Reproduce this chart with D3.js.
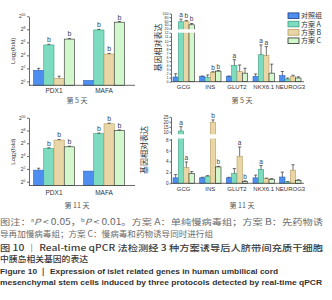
<!DOCTYPE html>
<html>
<head>
<meta charset="utf-8">
<style>
    body { margin: 0; background: #fff; }
    svg { display: block; }
    text { font-family: "Liberation Sans", Arial, sans-serif; }
    .cjk { font-family: "Noto Sans CJK SC", sans-serif; }
</style>
</head>
<body>
<svg id="figure"></svg>
<script src="https://cdn.jsdelivr.net/npm/d3@7"></script>
<script>
    let width = 332,
        height = 300

    // groups and genes
    const groups = ["对照组", "方案 A", "方案 B", "方案 C"]
    const leftGenes = ["PDX1", "MAFA"]
    const rightGenes = ["GCG", "INS", "GLUT2", "NKX6.1", "NEUROG3"]

    // tick labels
    const log2Ticks = [0, 2, 4, 6, 8, 10]
    const d5LowTicks = [0, 1, 2, 3, 4, 5, 6, 7, 8, 9, 10, 11, 12]
    const d5UpTicks = [20, 40, 60, 80, 100]
    const d11LowTicks = [0, 2, 4, 6, 8]
    const d11UpTicks = [10, 15, 20, 25]

    // day 5, log2(fold), rows = genes, cols = groups
    const d5Left = [[1.7, 5.6, 0.45, 6.5], [0.15, 7.9, 4.2, 9.1]]
    const d5LeftErr = [[0.3, 0.1, 0.35, 0.1], [0, 0.1, 0.1, 0.1]]
    const d5LeftSig = [["", "b", "", "b"], ["", "b", "b", "b"]]

    // day 11, log2(fold)
    const d11Left = [[1.8, 5.2, 6.5, 5.45], [1.65, 7.5, 9.05, 8.0]]
    const d11LeftErr = [[0.3, 0.1, 0.1, 0.1], [0, 0.1, 0.1, 0.1]]
    const d11LeftSig = [["", "b", "b", "b"], ["", "b", "b", "b"]]

    // day 5, relative expression
    const d5Right = [[1.15, 56, 58, 40], [1.3, 1.05, 2.3, 2.6], [1.3, 4.0, 2.5, 2.1], [1.3, 6.6, 6.4, 2.1], [1.5, 0.65, 1.3, 0.9]]
    const d5RightErr = [[0.8, 14, 5, 7], [0.1, 0.6, 0.15, 0.1], [0.1, 1.4, 1.6, 1.2], [0.6, 2.4, 2.2, 2.2], [1.0, 0.25, 0.3, 0.3]]
    const d5RightSig = [["", "a", "b", "b"], ["", "", "b", "b"], ["", "a", "", ""], ["", "a", "a", ""], ["", "", "", ""]]

    // day 11, relative expression
    const d11Right = [[1.0, 10.8, 2.9, 1.8], [1.0, 1.3, 19.6, 3.0], [1.0, 1.8, 4.95, 0.35], [1.0, 2.55, 0.85, 0.75], [1.15, 0.25, 2.4, 0.55]]
    const d11RightErr = [[0.6, 4.3, 1.0, 0.35], [0.1, 0.1, 2.3, 0.1], [0.1, 0.9, 1.7, 0.1], [0.5, 0.7, 0.1, 0.1], [0.9, 0.05, 1.0, 0.1]]
    const d11RightSig = [["", "a", "a", ""], ["", "", "b", "b"], ["", "", "a", "b"], ["", "a", "", ""], ["", "", "", ""]]

    const fills = ["#4d8ef0", "#7ddcc0", "#e8d6a6", "#d3f7cc"]
    const strokes = ["#2f66c0", "#3c9e80", "#b89c62", "#2a2a2a"]

    let svg = d3.select("#figure").attr("width", width).attr("height", height)

    function styleAxis(ax, size) {
        ax.selectAll("path, line").attr("stroke", "#444").attr("stroke-width", 0.8)
        ax.selectAll("text").attr("fill", "#333").attr("font-size", size)
    }

    function drawBars(g, genes, values, errors, sigs, x0, y, base, sigSize) {
        let x1 = d3.scaleBand().domain(groups).range([0, x0.bandwidth()])
        let rows = genes.flatMap((gene, i) => groups.map((grp, j) => ({
            gene: gene, grp: grp, j: j, v: values[i][j], e: errors[i][j], s: sigs[i][j]
        })))
        let cells = g.append("g").selectAll("g").data(rows).join("g")
            .attr("transform", d => `translate(${x0(d.gene) + x1(d.grp)},0)`)
        cells.append("rect")
            .attr("width", x1.bandwidth())
            .attr("y", d => y(d.v))
            .attr("height", d => base - y(d.v))
            .attr("fill", d => fills[d.j])
            .attr("stroke", d => strokes[d.j])
            .attr("stroke-width", 0.6)
        let bw = x1.bandwidth() / 2
        let withErr = cells.filter(d => d.e > 0)
        withErr.append("line")
            .attr("x1", bw).attr("x2", bw)
            .attr("y1", d => y(d.v)).attr("y2", d => y(d.v + d.e))
            .attr("stroke", "#333").attr("stroke-width", 0.7)
        withErr.append("line")
            .attr("x1", bw - 1.6).attr("x2", bw + 1.6)
            .attr("y1", d => y(d.v + d.e)).attr("y2", d => y(d.v + d.e))
            .attr("stroke", "#333").attr("stroke-width", 0.7)
        cells.filter(d => d.s).append("text")
            .attr("x", bw)
            .attr("y", d => y(d.v + d.e) - 2)
            .attr("text-anchor", "middle")
            .attr("font-size", sigSize)
            .attr("fill", "#33405a")
            .text(d => d.s)
    }

    function drawLog2Panel(values, errors, sigs, yRange, labelPad, title, titleY) {
        let g = svg.append("g")
        let x0 = d3.scaleBand().domain(leftGenes).range([29, 129]).paddingInner(0.18).paddingOuter(0.09)
        let y = d3.scaleLinear().domain([-0.6, 10]).range(yRange)
        let base = yRange[0]
        drawBars(g, leftGenes, values, errors, sigs, x0, y, base, 7)

        let ay = g.append("g").attr("transform", "translate(29,0)")
            .call(d3.axisLeft(y).tickValues(log2Ticks).tickSize(2).tickSizeOuter(0).tickPadding(1.5))
        styleAxis(ay, 5)
        ay.selectAll(".tick text").text("2")
            .append("tspan").attr("dy", -2).attr("font-size", 3.4).text(d => d)

        let ax = g.append("g").attr("transform", `translate(0,${base})`)
            .call(d3.axisBottom(x0).tickSize(0).tickPadding(labelPad))
        ax.select(".domain").attr("d", `M29,0H135`)
        styleAxis(ax, 6.5)

        let cy = (yRange[0] + yRange[1]) / 2
        let lab = g.append("text").attr("transform", `translate(15,${cy}) rotate(-90)`)
            .attr("text-anchor", "middle").attr("font-size", 6).attr("fill", "#333")
            .text("Log")
        lab.append("tspan").attr("font-size", 4.5).attr("dy", 1.2).text("2")
        lab.append("tspan").attr("dy", -1.2).text("(fold)")

        g.append("text").attr("class", "cjk").attr("x", 77).attr("y", titleY)
            .attr("text-anchor", "middle").attr("font-size", 7).attr("fill", "#555").text(title)
    }

    function drawBrokenPanel(values, errors, sigs, low, up, lowTicks, upTicks, tickSize, labelPad, labelX, title, titleY) {
        let g = svg.append("g")
        let x0 = d3.scaleBand().domain(rightGenes).range([171, 303]).paddingInner(0.2).paddingOuter(0.075)
        let lowMax = low.domain()[1]
        let y = v => v <= lowMax ? low(v) : up(v)
        let base = low.range()[0]
        drawBars(g, rightGenes, values, errors, sigs, x0, y, base, 6.5)

        // white gap where the axis is broken
        g.append("rect").attr("x", 171.5).attr("width", 133)
            .attr("y", up.range()[0]).attr("height", low.range()[1] - up.range()[0])
            .attr("fill", "#fff")

        let a1 = g.append("g").attr("transform", "translate(171,0)")
            .call(d3.axisLeft(low).tickValues(lowTicks).tickSize(1.5).tickSizeOuter(0).tickPadding(1))
        styleAxis(a1, tickSize)
        let a2 = g.append("g").attr("transform", "translate(171,0)")
            .call(d3.axisLeft(up).tickValues(upTicks).tickSize(1.5).tickSizeOuter(0).tickPadding(1))
        styleAxis(a2, tickSize)

        let ax = g.append("g").attr("transform", `translate(0,${base})`)
            .call(d3.axisBottom(x0).tickSize(0).tickPadding(labelPad))
        ax.select(".domain").attr("d", "M171,0H304")
        styleAxis(ax, 6)

        let cy = (low.range()[0] + up.range()[1]) / 2
        g.append("text").attr("class", "cjk")
            .attr("transform", `translate(${labelX},${cy}) rotate(-90)`)
            .attr("text-anchor", "middle").attr("font-size", 8).attr("fill", "#333")
            .text("基因相对表达")

        g.append("text").attr("class", "cjk").attr("x", 242).attr("y", titleY)
            .attr("text-anchor", "middle").attr("font-size", 7).attr("fill", "#555").text(title)
    }

    drawLog2Panel(d5Left, d5LeftErr, d5LeftSig, [85.3, 16.3], 3.1, "第 5 天", 102.5)
    drawLog2Panel(d11Left, d11LeftErr, d11LeftSig, [185.5, 117.7], 5.2, "第 11 天", 207.5)

    drawBrokenPanel(d5Right, d5RightErr, d5RightSig,
        d3.scaleLinear().domain([0, 12]).range([81.7, 32.7]),
        d3.scaleLinear().domain([16, 100]).range([29.3, 13.5]),
        d5LowTicks, d5UpTicks, 3.6, 3.3, 161, "第 5 天", 102.5)
    drawBrokenPanel(d11Right, d11RightErr, d11RightSig,
        d3.scaleLinear().domain([0, 8.2]).range([183.3, 138.5]),
        d3.scaleLinear().domain([7.5, 25]).range([134.3, 116.8]),
        d11LowTicks, d11UpTicks, 4.6, 3.0, 147, "第 11 天", 207.5)

    // legend
    let legend = svg.append("g").selectAll("g").data(groups).join("g")
        .attr("transform", (d, i) => `translate(288,${15.7 + i * 8.35})`)
    legend.append("rect").attr("y", -2.8).attr("width", 11).attr("height", 5.6)
        .attr("fill", (d, i) => fills[i]).attr("stroke", (d, i) => i == 0 ? "#1d3c78" : strokes[i]).attr("stroke-width", 0.8)
    legend.append("text").attr("class", "cjk").attr("x", 13).attr("y", 2.6)
        .attr("font-size", 7).attr("fill", "#333").text(d => d)

    // caption
    let cap = svg.append("g")
    let l1 = cap.append("text").attr("class", "cjk").attr("x", 0).attr("y", 225)
        .attr("font-size", 8.5).attr("fill", "#6b6b6b")
        .attr("textLength", 323).attr("lengthAdjust", "spacingAndGlyphs")
    l1.append("tspan").text("图注：")
    l1.append("tspan").attr("font-size", 5).attr("dy", -3).text("a")
    l1.append("tspan").attr("dy", 3).attr("font-style", "italic").text("P")
    l1.append("tspan").text(" < 0.05，")
    l1.append("tspan").attr("font-size", 5).attr("dy", -3).text("b")
    l1.append("tspan").attr("dy", 3).attr("font-style", "italic").text("P")
    l1.append("tspan").text(" < 0.01。方案 A：单纯慢病毒组；方案 B：先药物诱")

    const capLines = [
        { t: "导再加慢病毒组；方案 C：慢病毒和药物诱导同时进行组", y: 237.3, len: 213, fill: "#6b6b6b", cls: "cjk", w: "normal" },
        { t: "图 10 ｜ Real-time qPCR 法检测经 3 种方案诱导后人脐带间充质干细胞", y: 250.5, len: 323, fill: "#3a3a3a", cls: "cjk", w: "500" },
        { t: "中胰岛相关基因的表达", y: 261.6, len: 88, fill: "#3a3a3a", cls: "cjk", w: "500" },
        { t: "Figure 10 ｜ Expression of islet related genes in human umbilical cord", y: 274, len: 278, fill: "#333", cls: "lat", w: "bold" },
        { t: "mesenchymal stem cells induced by three protocols detected by real-time qPCR", y: 284.6, len: 322, fill: "#333", cls: "lat", w: "bold" }
    ]
    cap.selectAll("text.line").data(capLines).join("text")
        .attr("class", d => "line " + d.cls)
        .attr("x", 0).attr("y", d => d.y)
        .attr("font-size", d => d.cls == "cjk" ? 8.5 : 8)
        .attr("font-weight", d => d.w)
        .attr("fill", d => d.fill)
        .attr("textLength", d => d.len).attr("lengthAdjust", "spacingAndGlyphs")
        .style("font-family", d => d.cls == "lat" ? '"Liberation Sans Narrow", "Liberation Sans", sans-serif' : null)
        .text(d => d.t)
</script>
</body>
</html>
